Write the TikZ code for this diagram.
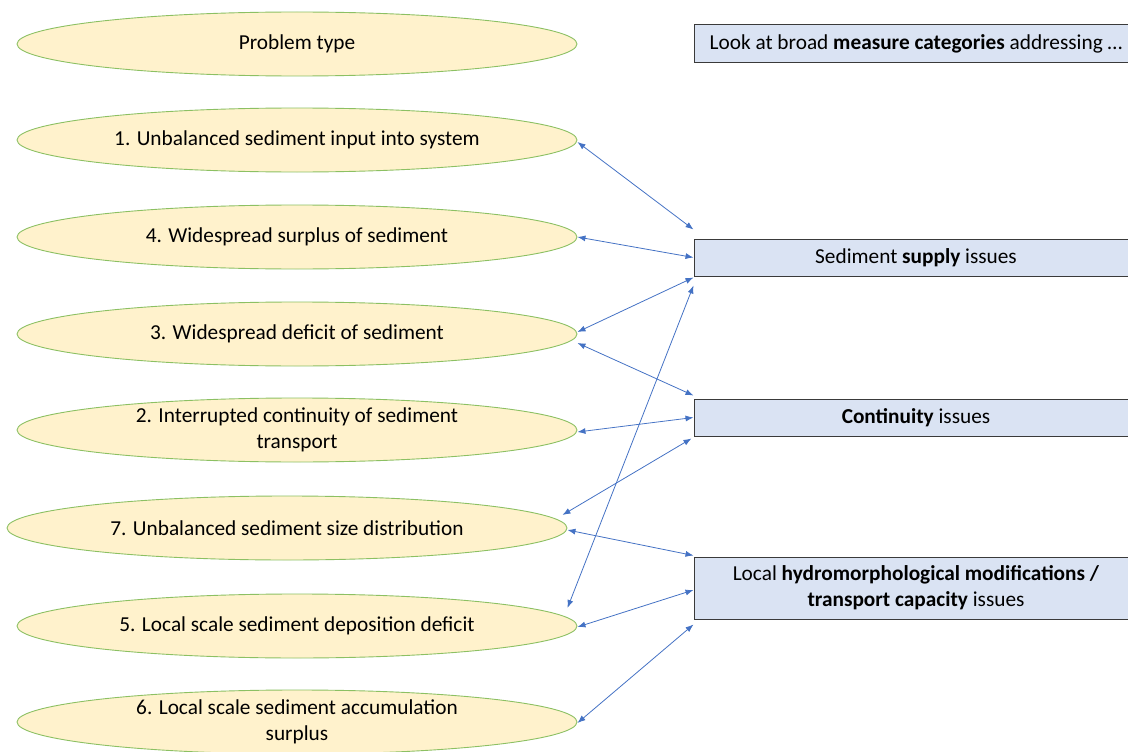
\documentclass[tikz,border=0pt]{standalone}
\usepackage{fontspec}
\setmainfont{Carlito}
\usetikzlibrary{shapes.geometric,arrows.meta}
\definecolor{probfill}{HTML}{FFF2CC}
\definecolor{probline}{HTML}{8CC063}
\definecolor{catfill}{HTML}{DAE3F3}
\definecolor{catline}{HTML}{3A3A3A}
\definecolor{linkblue}{HTML}{4472C4}
\tikzset{
  problem/.style={ellipse, draw=probline, line width=0.9pt, fill=probfill,
    minimum width=560pt, minimum height=64pt, inner sep=0pt,
    align=center, font=\fontsize{21.3}{26}\selectfont},
  category/.style={rectangle, draw=catline, line width=1pt, fill=catfill,
    minimum width=444pt, inner sep=0pt,
    align=center, font=\fontsize{21.3}{26}\selectfont},
  link/.style={draw=linkblue, line width=0.8pt,
    {Latex[length=8pt,width=6pt]}-{Latex[length=8pt,width=6pt]}}
}
\begin{document}
\begin{tikzpicture}[x=1pt,y=-1pt]
\useasboundingbox (0,0) rectangle (1128,752);
\clip (0,0) rectangle (1128,752);

% problem types
\node[problem] (head) at (297,44) {Problem type};
\node[problem] (e1) at (297,140) {1. Unbalanced sediment input into system};
\node[problem] (e4) at (297,237) {4. Widespread surplus of sediment};
\node[problem] (e3) at (297,334) {3. Widespread deficit of sediment};
\node[problem] (e2) at (297,430) {2. Interrupted continuity of sediment\\transport};
\node[problem] (e7) at (287,528) {7. Unbalanced sediment size distribution};
\node[problem] (e5) at (297,626) {5. Local scale sediment deposition deficit};
\node[problem] (e6) at (297,722) {6. Local scale sediment accumulation\\surplus};

% measure categories
\node[category, minimum height=38pt] (top) at (916,44)
  {Look at broad \textbf{measure categories} addressing \dots};
\node[category, minimum height=37pt] (sup) at (916,257.5)
  {Sediment \textbf{supply} issues};
\node[category, minimum height=37pt] (cont) at (916,417.5)
  {\textbf{Continuity} issues};
\node[category, minimum height=62pt] (loc) at (916,588)
  {Local \textbf{hydromorphological modifications /}\\\textbf{transport capacity} issues};

% links
\draw[link] ([yshift=-2pt]e1.east) -- ([yshift=9pt]sup.north west);
\draw[link] (e4.east) -- (sup.west);
\draw[link] ([yshift=2pt]e3.east) -- ([yshift=-1pt]sup.south west);
\draw[link] ([yshift=-9pt]e3.east) -- ([yshift=3pt]cont.north west);
\draw[link] ([yshift=-2pt]e2.east) -- (cont.west);
\draw[link] ([xshift=-5pt,yshift=13pt]e7.east) -- ([xshift=-2pt,yshift=-2pt]cont.south west);
\draw[link] ([xshift=-10pt,yshift=18pt]e5.east) -- ([yshift=-9pt]sup.south west);
\draw[link] ([yshift=-2pt]e7.east) -- ([yshift=1pt]loc.north west);
\draw[link] ([yshift=-1pt]e5.east) -- ([yshift=-2pt]loc.west);
\draw[link] ([yshift=-1pt]e6.east) -- ([yshift=-5pt]loc.south west);
\end{tikzpicture}
\end{document}
